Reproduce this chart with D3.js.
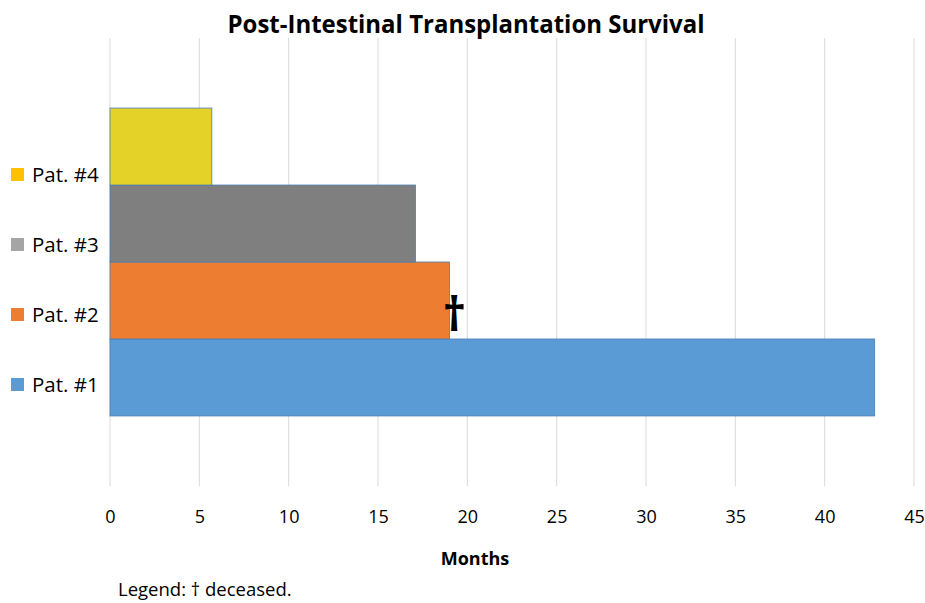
<!DOCTYPE html>
<html>
<head>
<meta charset="utf-8">
<script src="https://cdn.jsdelivr.net/npm/d3@7"></script>
<style>
  body { margin: 0; background: #ffffff; }
  text { font-family: "Open Sans", "Noto Sans", sans-serif; fill: #000; }
</style>
</head>
<body>
<svg id="chart" width="925" height="603"></svg>
<script>
// Survival data (months after transplantation)
const patients = ['Pat. #1', 'Pat. #2', 'Pat. #3', 'Pat. #4'];
const months = [42.8, 19.0, 17.1, 5.7];
const deceased = [false, true, false, false];
const barColors = ['#5b9bd5', '#ed7d31', '#7f7f7f', '#e5d228'];
const legendColors = ['#5b9bd5', '#ed7d31', '#a5a5a5', '#ffc000'];
const xTicks = [0, 5, 10, 15, 20, 25, 30, 35, 40, 45];

const width = 925, height = 603;
const margin = { top: 38, right: 11, bottom: 117, left: 110 };

const svg = d3.select('#chart');

const x = d3.scaleLinear()
    .domain([0, 45])
    .range([margin.left, width - margin.right]);

const y = d3.scaleBand()
    .domain(patients)
    .range([height - margin.bottom, margin.top])
    .paddingInner(0)
    .paddingOuter(0.91);

// Gridlines
svg.append('g').attr('class', 'grid').selectAll('line')
    .data(xTicks).enter().append('line')
    .attr('x1', d => x(d)).attr('x2', d => x(d))
    .attr('y1', margin.top).attr('y2', height - margin.bottom)
    .attr('stroke', '#d9d9d9')
    .attr('stroke-width', 1);

// Bars
const rows = patients.map((p, i) => ({ name: p, value: months[i], dead: deceased[i], color: barColors[i] }));

svg.append('g').attr('class', 'bars').selectAll('rect')
    .data(rows).enter().append('rect')
    .attr('x', x(0))
    .attr('y', d => y(d.name))
    .attr('width', d => x(d.value) - x(0))
    .attr('height', y.bandwidth())
    .attr('fill', d => d.color)
    .attr('stroke', '#4a7eb4')
    .attr('stroke-width', 0.8);

// Dagger for deceased patients
svg.append('g').selectAll('text')
    .data(rows.filter(d => d.dead)).enter().append('text')
    .attr('x', d => x(d.value) + 5)
    .attr('y', d => y(d.name) + y.bandwidth() / 2 + 31)
    .attr('text-anchor', 'middle')
    .attr('font-family', 'DejaVu Sans')
    .attr('font-size', '46px')
    .attr('font-weight', 'bold')
    .text('\u2020');

// X axis tick labels (no axis line)
const xAxis = d3.axisBottom(x).tickValues(xTicks).tickSize(0).tickPadding(0);
const gx = svg.append('g')
    .attr('transform', `translate(0, ${height - margin.bottom + 24})`)
    .call(xAxis);
gx.select('.domain').remove();
gx.selectAll('text')
    .attr('font-size', '18px')
    .attr('font-family', '"Open Sans", sans-serif')
    .attr('fill', '#000');

// Axis title
svg.append('text')
    .attr('x', 475)
    .attr('y', 565)
    .attr('text-anchor', 'middle')
    .attr('font-size', '18px')
    .attr('font-weight', 'bold')
    .text('Months');

// Chart title
svg.append('text')
    .attr('x', 466)
    .attr('y', 33)
    .attr('text-anchor', 'middle')
    .attr('font-size', '25px')
    .attr('font-weight', 'bold')
    .attr('textLength', 477)
    .attr('lengthAdjust', 'spacingAndGlyphs')
    .text('Post-Intestinal Transplantation Survival');

// Left legend (top: Pat. #4)
const legend = svg.append('g').attr('class', 'legend').selectAll('g')
    .data(patients.map((p, i) => ({ name: p, color: legendColors[i] })).reverse())
    .enter().append('g')
    .attr('transform', (d, i) => `translate(11, ${174.5 + i * 70})`);

legend.append('rect')
    .attr('x', 0).attr('y', -6.5)
    .attr('width', 13).attr('height', 13)
    .attr('fill', d => d.color);

legend.append('text')
    .attr('x', 21)
    .attr('y', 7)
    .attr('font-size', '20.5px')
    .text(d => d.name);

// Footnote
svg.append('text')
    .attr('x', 118)
    .attr('y', 596)
    .attr('font-size', '18.5px')
    .text('Legend: \u2020 deceased.');
</script>
</body>
</html>
